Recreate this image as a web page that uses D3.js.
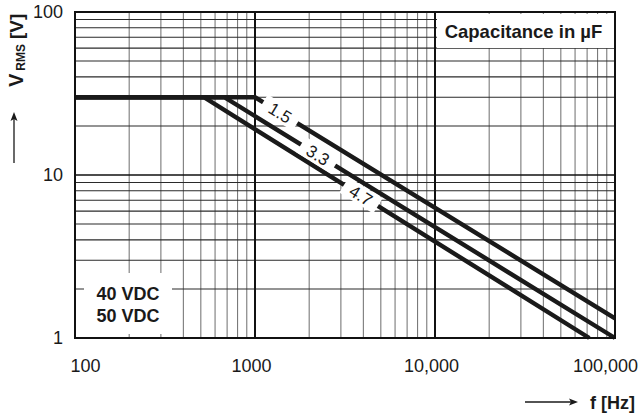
<!DOCTYPE html>
<html>
<head>
<meta charset="utf-8">
<script src="https://cdn.jsdelivr.net/npm/d3@7"></script>
<style>
    body { margin: 0; background: #fff; }
    svg { display: block; font-family: 'Liberation Sans', Arial, Helvetica, sans-serif; }
</style>
</head>
<body>
<div id="chart"></div>
<script>
(function () {

const [WIDTH, HEIGHT] = [641, 418];
const MARGIN = { left: 75, right: 26, top: 12, bottom: 80 };

// axis ticks
const freqTicks = [100, 1000, 10000, 100000];
const freqTickLabels = ['100', '1000', '10,000', '100,000'];
const voltTicks = [1, 10, 100];
const voltTickLabels = ['1', '10', '100'];

// curves: [frequency Hz, V rms]
const curve15 = [[100, 30], [1000, 30], [100000, 1.32]];
const curve33 = [[100, 30], [675, 30], [100000, 1.0]];
const curve47 = [[100, 30], [520, 30], [72000, 1.0]];

const capLabels = ['1.5', '3.3', '4.7'];
const capLabelFreqs = [1380, 2240, 3880];

const x = d3.scaleLog()
    .domain([100, 100000])
    .range([MARGIN.left, WIDTH - MARGIN.right]);

const y = d3.scaleLog()
    .domain([1, 100])
    .range([HEIGHT - MARGIN.bottom, MARGIN.top]);

function minorValues(lo, hi) {
    const out = [];
    for (let d = lo; d < hi; d *= 10) {
        for (let k = 2; k <= 9; k++) out.push(d * k);
    }
    return out;
}

// value on a curve at frequency f (log-log interpolation)
function curveAt(curve, f) {
    for (let i = 1; i < curve.length; i++) {
        const [f0, v0] = curve[i - 1];
        const [f1, v1] = curve[i];
        if (f >= f0 && f <= f1) {
            const t = Math.log(f / f0) / Math.log(f1 / f0);
            return Math.exp(Math.log(v0) + t * Math.log(v1 / v0));
        }
    }
    return curve[curve.length - 1][1];
}

const svg = d3.select('#chart').append('svg')
    .attr('width', WIDTH)
    .attr('height', HEIGHT)
    .attr('viewBox', `0 0 ${WIDTH} ${HEIGHT}`);

const top = MARGIN.top;
const bottom = HEIGHT - MARGIN.bottom;
const left = MARGIN.left;
const right = WIDTH - MARGIN.right;

// grid: minor verticals (grey), minor horizontals (dark)
const grid = svg.append('g').attr('class', 'grid');

grid.selectAll('.vminor')
    .data(minorValues(100, 100000))
    .enter().append('line')
    .attr('x1', (d) => x(d)).attr('x2', (d) => x(d))
    .attr('y1', top).attr('y2', bottom)
    .attr('stroke', '#7a7a7a')
    .attr('stroke-width', 1.1);

grid.selectAll('.hminor')
    .data(minorValues(1, 100))
    .enter().append('line')
    .attr('y1', (d) => y(d)).attr('y2', (d) => y(d))
    .attr('x1', left).attr('x2', right)
    .attr('stroke', '#2a2a2a')
    .attr('stroke-width', 1.1);

grid.selectAll('.vmajor')
    .data(freqTicks.slice(1, -1))
    .enter().append('line')
    .attr('x1', (d) => x(d)).attr('x2', (d) => x(d))
    .attr('y1', top).attr('y2', bottom)
    .attr('stroke', '#111')
    .attr('stroke-width', 2);

grid.selectAll('.hmajor')
    .data(voltTicks.slice(1, -1))
    .enter().append('line')
    .attr('y1', (d) => y(d)).attr('y2', (d) => y(d))
    .attr('x1', left).attr('x2', right)
    .attr('stroke', '#111')
    .attr('stroke-width', 1.6);

// curves
const line = d3.line()
    .x((d) => x(d[0]))
    .y((d) => y(d[1]));

const curves = [curve15, curve33, curve47];

svg.append('g').selectAll('path')
    .data(curves)
    .enter().append('path')
    .attr('d', line)
    .attr('fill', 'none')
    .attr('stroke', '#1a1a1a')
    .attr('stroke-width', 4.4)
    .attr('stroke-linejoin', 'miter');

// curve labels, sitting in a white gap cut out of the line
const labels = svg.append('g').selectAll('g')
    .data(curves.map((c, i) => {
        const f = capLabelFreqs[i];
        const px = x(f);
        const py = y(curveAt(c, f));
        const last = c[c.length - 1];
        const prev = c[c.length - 2];
        const angle = Math.atan2(y(last[1]) - y(prev[1]), x(last[0]) - x(prev[0])) * 180 / Math.PI;
        return { text: capLabels[i], px, py, angle };
    }))
    .enter().append('g')
    .attr('transform', (d) => `translate(${d.px}, ${d.py}) rotate(${d.angle})`);

labels.append('rect')
    .attr('x', -20).attr('y', -9)
    .attr('width', 40).attr('height', 18)
    .attr('fill', '#fff');

labels.append('text')
    .attr('text-anchor', 'middle')
    .attr('dy', '0.36em')
    .attr('font-size', 17)
    .attr('fill', '#1a1a1a')
    .text((d) => d.text);

// legend box top right
const capBox = svg.append('g');
capBox.append('rect')
    .attr('x', x(10000) + 2).attr('y', top + 2)
    .attr('width', right - x(10000) - 3).attr('height', 34)
    .attr('fill', '#fff');
capBox.append('text')
    .attr('x', x(10000) + 2 + (right - x(10000) - 3) / 2 - 2)
    .attr('y', top + 26)
    .attr('text-anchor', 'middle')
    .attr('font-size', 18.5)
    .attr('font-weight', 'bold')
    .attr('fill', '#1a1a1a')
    .text('Capacitance in µF');

// voltage rating box bottom left
const vdcBox = svg.append('g');
vdcBox.append('rect')
    .attr('x', 84).attr('y', 273)
    .attr('width', 88).attr('height', 61)
    .attr('fill', '#fff');
vdcBox.selectAll('text')
    .data(['40 VDC', '50 VDC'])
    .enter().append('text')
    .attr('x', 128)
    .attr('y', (d, i) => 300 + i * 22)
    .attr('text-anchor', 'middle')
    .attr('font-size', 18)
    .attr('font-weight', 'bold')
    .attr('fill', '#1a1a1a')
    .text((d) => d);

// frame
svg.append('rect')
    .attr('x', left).attr('y', top)
    .attr('width', right - left).attr('height', bottom - top)
    .attr('fill', 'none')
    .attr('stroke', '#111')
    .attr('stroke-width', 2);

// axes (labels only)
const xAxis = svg.append('g')
    .attr('transform', `translate(0, ${bottom})`)
    .call(d3.axisBottom(x)
        .tickValues(freqTicks)
        .tickFormat((d, i) => freqTickLabels[i])
        .tickSize(0)
        .tickPadding(21));
xAxis.select('.domain').remove();
xAxis.selectAll('text')
    .attr('font-size', 18)
    .attr('font-family', null)
    .attr('fill', '#1a1a1a')
    .attr('dx', (d, i) => i === 0 ? 10 : (i === freqTicks.length - 1 ? -10 : -4));

const yAxis = svg.append('g')
    .attr('transform', `translate(${left}, 0)`)
    .call(d3.axisLeft(y)
        .tickValues(voltTicks)
        .tickFormat((d, i) => voltTickLabels[i])
        .tickSize(0)
        .tickPadding(12));
yAxis.select('.domain').remove();
yAxis.selectAll('text')
    .attr('font-size', 18)
    .attr('font-family', null)
    .attr('fill', '#1a1a1a');

// y title with arrow
const yTitle = svg.append('text')
    .attr('transform', 'translate(23, 87) rotate(-90)')
    .attr('font-weight', 'bold')
    .attr('fill', '#1a1a1a');
yTitle.append('tspan').attr('font-size', 20).text('V');
yTitle.append('tspan').attr('font-size', 12).attr('dx', 3).attr('dy', 2).text('RMS');
yTitle.append('tspan').attr('font-size', 19).attr('dx', 5).attr('dy', -2).text('[V]');

const arrowColor = '#1a1a1a';
svg.append('line')
    .attr('x1', 14).attr('x2', 14)
    .attr('y1', 163).attr('y2', 118)
    .attr('stroke', arrowColor).attr('stroke-width', 1.3);
svg.append('path')
    .attr('d', 'M14,112 L10.5,121 L14,119 L17.5,121 Z')
    .attr('fill', arrowColor);

// x title with arrow
svg.append('text')
    .attr('x', 635).attr('y', 409)
    .attr('text-anchor', 'end')
    .attr('font-size', 18)
    .attr('font-weight', 'bold')
    .attr('fill', '#1a1a1a')
    .text('f [Hz]');
svg.append('line')
    .attr('x1', 525).attr('x2', 572)
    .attr('y1', 402).attr('y2', 402)
    .attr('stroke', arrowColor).attr('stroke-width', 1.3);
svg.append('path')
    .attr('d', 'M578,402 L569,398.5 L571,402 L569,405.5 Z')
    .attr('fill', arrowColor);

})();
</script>
</body>
</html>
